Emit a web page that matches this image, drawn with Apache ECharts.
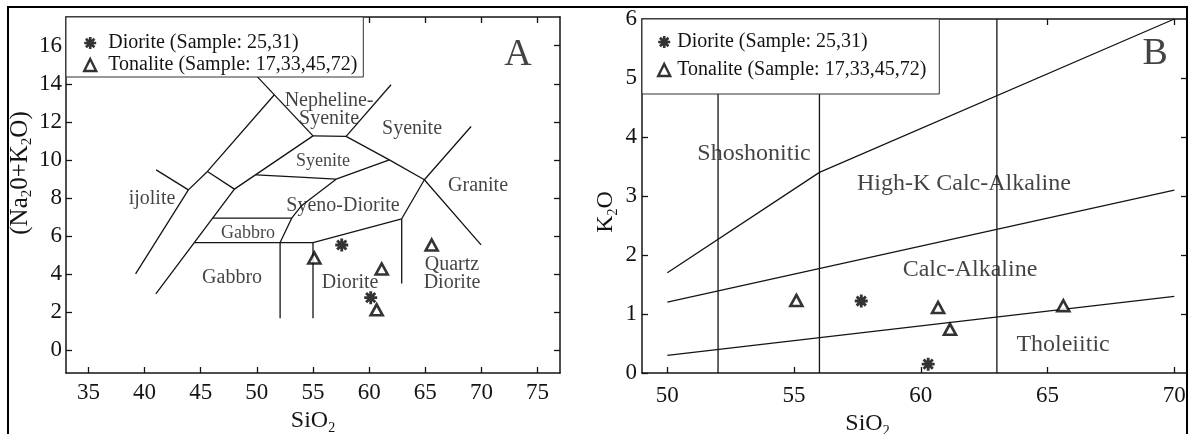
<!DOCTYPE html>
<html><head><meta charset="utf-8">
<script src="https://cdn.jsdelivr.net/npm/echarts@6/dist/echarts.min.js"></script>
<style>html,body{margin:0;padding:0;background:#fff}#c{width:1189px;height:434px}</style>
</head><body><div id="c"></div>
<script>
// ---------- DATA ----------
const DIORITE = 'Diorite (Sample: 25,31)';
const TONALITE = 'Tonalite (Sample: 17,33,45,72)';

// Panel A: TAS (SiO2 vs Na2O+K2O)
const dioriteA = [[57.56, 5.52], [60.14, 2.75]];
const tonaliteA = [[55.12, 4.84], [61.12, 4.26], [60.67, 2.11], [65.57, 5.52]];
const tasXTicks = [35, 40, 45, 50, 55, 60, 65, 70, 75];
const tasYTicks = [0, 2, 4, 6, 8, 10, 12, 14, 16];
const tasBoundaries = [
  [[39.2, 4.0], [43.9, 8.42], [45.6, 9.39], [51.56, 13.42]],
  [[41.0, 2.95], [48.0, 8.46], [55.0, 11.26]],
  [[41.03, 9.47], [43.9, 8.42]],
  [[45.6, 9.39], [48.0, 8.46]],
  [[50.05, 14.36], [55.0, 11.26]],
  [[55.0, 11.26], [57.95, 11.23]],
  [[57.95, 11.23], [61.95, 13.95]],
  [[57.95, 11.23], [61.8, 10.0], [64.92, 8.95], [69.97, 5.53]],
  [[62.9, 6.9], [64.92, 8.95], [69.08, 11.75]],
  [[49.93, 9.21], [53.79, 9.09], [57.06, 8.98], [61.8, 10.0]],
  [[52.07, 5.65], [53.1, 6.93], [54.0, 7.6], [57.06, 8.98]],
  [[46.06, 6.93], [53.1, 6.93]],
  [[44.43, 5.65], [55.0, 5.65]],
  [[55.0, 5.65], [62.9, 6.9]],
  [[52.07, 5.65], [52.07, 1.67]],
  [[55.0, 5.65], [55.0, 1.67]],
  [[62.9, 6.9], [62.9, 3.5]]
];
const tasLabels = [
  [56.43, 12.70, 'Nepheline-\nSyenite'],
  [63.82, 11.67, 'Syenite'],
  [69.70, 8.68, 'Granite'],
  [57.67, 7.63, 'Syeno-Diorite'],
  [40.66, 7.99, 'ijolite'],
  [47.79, 3.84, 'Gabbro'],
  [58.30, 3.58, 'Diorite'],
  [67.38, 4.08, 'Quartz\nDiorite']
];
const tasSmallLabels = [
  [55.89, 10.0, 'Syenite'],
  [49.21, 6.21, 'Gabbro']
];
const tasPanel = [[73.26, 15.67, 'A']];

// Panel B: SiO2 vs K2O
const dioriteB = [[57.65, 1.22], [60.29, 0.15]];
const tonaliteB = [[55.09, 1.23], [60.68, 1.11], [61.15, 0.74], [65.62, 1.14]];
const pkXTicks = [50, 55, 60, 65, 70];
const pkYTicks = [0, 1, 2, 3, 4, 5, 6];
const pkBoundaries = [
  [[50, 1.7], [56, 3.4], [70, 6.0]],
  [[50, 1.2], [70, 3.1]],
  [[50, 0.3], [70, 1.3]],
  [[52, 0], [52, 4.73]],
  [[56, 0], [56, 4.73]],
  [[63, 0], [63, 6]]
];
const pkLabels = [
  [53.42, 3.75, 'Shoshonitic'],
  [61.70, 3.24, 'High-K Calc-Alkaline'],
  [61.94, 1.78, 'Calc-Alkaline'],
  [65.61, 0.51, 'Tholeiitic']
];
const pkPanel = [[69.24, 5.44, 'B']];

// ---------- STYLE ----------
const FONT = 'Liberation Serif';
const INK = '#141414';
const ASTER = 'path://M-0.22 -1L0.22 -1L0.22 1L-0.22 1Z M-1 -0.22L1 -0.22L1 0.22L-1 0.22Z M-0.552 -0.863L0.863 0.552L0.552 0.863L-0.863 -0.552Z M0.863 -0.552L-0.552 0.863L-0.863 0.552L0.552 -0.863Z';

function axisCommon(ticks, showLabel, fs, margin) {
  return {
    type: 'value',
    axisLine: { show: true, onZero: false, lineStyle: { color: INK, width: 1.5 } },
    axisTick: { show: true, inside: true, length: 6, customValues: ticks, lineStyle: { color: INK, width: 1.3 } },
    axisLabel: { show: showLabel, customValues: ticks, fontFamily: FONT, fontSize: fs, color: INK, margin: margin },
    splitLine: { show: false }
  };
}
// parts: array of [text, isSub]
function subName(parts, fs, pad) {
  return {
    name: parts.map(p => '{' + (p[1] ? 's' : 'a') + '|' + p[0] + '}').join(''),
    nameTextStyle: {
      padding: pad,
      rich: {
        a: { fontFamily: FONT, fontSize: fs, color: INK, lineHeight: fs + 4 },
        s: { fontFamily: FONT, fontSize: Math.round(fs * 0.6), color: INK, lineHeight: fs + 4, verticalAlign: 'bottom' }
      }
    }
  };
}

const xAxis = [
  Object.assign(axisCommon(tasXTicks, true, 23, 8), { gridIndex: 0, min: 33, max: 77, position: 'bottom',
    nameLocation: 'middle', nameGap: 30 }, subName([['SiO', 0], ['2', 1]], 24, [0, 0, 0, 0])),
  Object.assign(axisCommon(tasXTicks, false, 23, 8), { gridIndex: 0, min: 33, max: 77, position: 'top' }),
  Object.assign(axisCommon(pkXTicks, true, 23, 11), { gridIndex: 1, min: 49, max: 70.5, position: 'bottom',
    nameLocation: 'middle', nameGap: 36 }, subName([['SiO', 0], ['2', 1]], 24, [0, 94, 0, 0])),
  Object.assign(axisCommon(pkXTicks, false, 23, 8), { gridIndex: 1, min: 49, max: 70.5, position: 'top' })
];
const yAxis = [
  Object.assign(axisCommon(tasYTicks, true, 23, 4), { gridIndex: 0, min: -1.21, max: 17.51, position: 'left',
    nameLocation: 'middle', nameGap: 31 },
    subName([['(Na', 0], ['2', 1], ['0+K', 0], ['2', 1], ['O)', 0]], 25, [0, 0, 0, 44])),
  Object.assign(axisCommon(tasYTicks, false, 23, 4), { gridIndex: 0, min: -1.21, max: 17.51, position: 'right' }),
  Object.assign(axisCommon(pkYTicks, true, 23, 5), { gridIndex: 1, min: 0, max: 6, position: 'left',
    nameLocation: 'middle', nameGap: 22 }, subName([['K', 0], ['2', 1], ['O', 0]], 24, [0, 32, 0, 0])),
  Object.assign(axisCommon([1, 2, 3, 4, 5], false, 23, 5), { gridIndex: 1, min: 0, max: 6, position: 'right' })
];

const series = [];
function addLines(list, xi, yi) {
  list.forEach(pts => series.push({
    type: 'line', xAxisIndex: xi, yAxisIndex: yi, data: pts, symbol: 'none', silent: true,
    lineStyle: { color: INK, width: 1.3 }, z: 2
  }));
}
function addLabels(list, xi, yi, fs, lh, dy) {
  series.push({
    type: 'scatter', xAxisIndex: xi, yAxisIndex: yi, silent: true, symbolSize: 1,
    itemStyle: { color: 'rgba(0,0,0,0)' },
    data: list.map(d => ({ value: [d[0], d[1]], name: d[2] })),
    label: { show: true, position: 'inside', offset: [0, dy], formatter: '{b}', fontFamily: FONT, fontSize: fs, lineHeight: lh, color: INK },
    z: 3
  });
}
function addPoints(dio, ton, xi, yi) {
  series.push({
    name: DIORITE, type: 'scatter', xAxisIndex: xi, yAxisIndex: yi, data: dio,
    symbol: ASTER, symbolSize: 13, itemStyle: { color: '#000' }, z: 5
  });
  series.push({
    name: TONALITE, type: 'scatter', xAxisIndex: xi, yAxisIndex: yi, data: ton,
    symbol: 'triangle', symbolSize: [12, 11], itemStyle: { color: '#fff', borderColor: '#000', borderWidth: 2.6 }, z: 5
  });
}
addLines(tasBoundaries, 0, 0);
addLabels(tasLabels, 0, 0, 20, 18, 1);
addLabels(tasSmallLabels, 0, 0, 18, 18, 1);
addLabels(tasPanel, 0, 0, 38, 40, 3);
addPoints(dioriteA, tonaliteA, 0, 0);
addLines(pkBoundaries, 2, 2);
addLabels(pkLabels, 2, 2, 24, 26, 2);
addLabels(pkPanel, 2, 2, 38, 40, 2);
addPoints(dioriteB, tonaliteB, 2, 2);

function legendAt(left, top, pad, gap, textPad) {
  return {
    left: left, top: top, orient: 'vertical', selectedMode: false,
    data: [
      { name: DIORITE, icon: ASTER, itemStyle: { color: '#000', borderWidth: 0 } },
      { name: TONALITE, icon: 'triangle', itemStyle: { color: '#fff', borderColor: '#000', borderWidth: 2.4 } }
    ],
    itemWidth: 12, itemHeight: 12, itemGap: gap, padding: pad,
    backgroundColor: '#fff', borderColor: '#333', borderWidth: 1,
    textStyle: { fontFamily: FONT, fontSize: 20, color: INK, lineHeight: 20, padding: [0, 0, 0, textPad] },
    z: 10
  };
}

const chart = echarts.init(document.getElementById('c'), null, { renderer: 'canvas' });
chart.setOption({
  animation: false,
  backgroundColor: '#fff',
  grid: [
    { left: 66, top: 17, width: 494, height: 356, containLabel: false, outerBoundsMode: 'none' },
    { left: 642, top: 19, width: 545, height: 354, containLabel: false, outerBoundsMode: 'none' }
  ],
  xAxis: xAxis,
  yAxis: yAxis,
  legend: [legendAt(66, 17, [16, 6, 2, 17], 2, 7), legendAt(642, 19, [13, 13, 14, 15], 8, 2)],
  series: series,
  graphic: [{
    type: 'rect', silent: true, z: 100,
    shape: { x: 8, y: 7, width: 1179, height: 600 },
    style: { fill: 'none', stroke: '#000', lineWidth: 2 }
  }]
});
</script></body></html>
